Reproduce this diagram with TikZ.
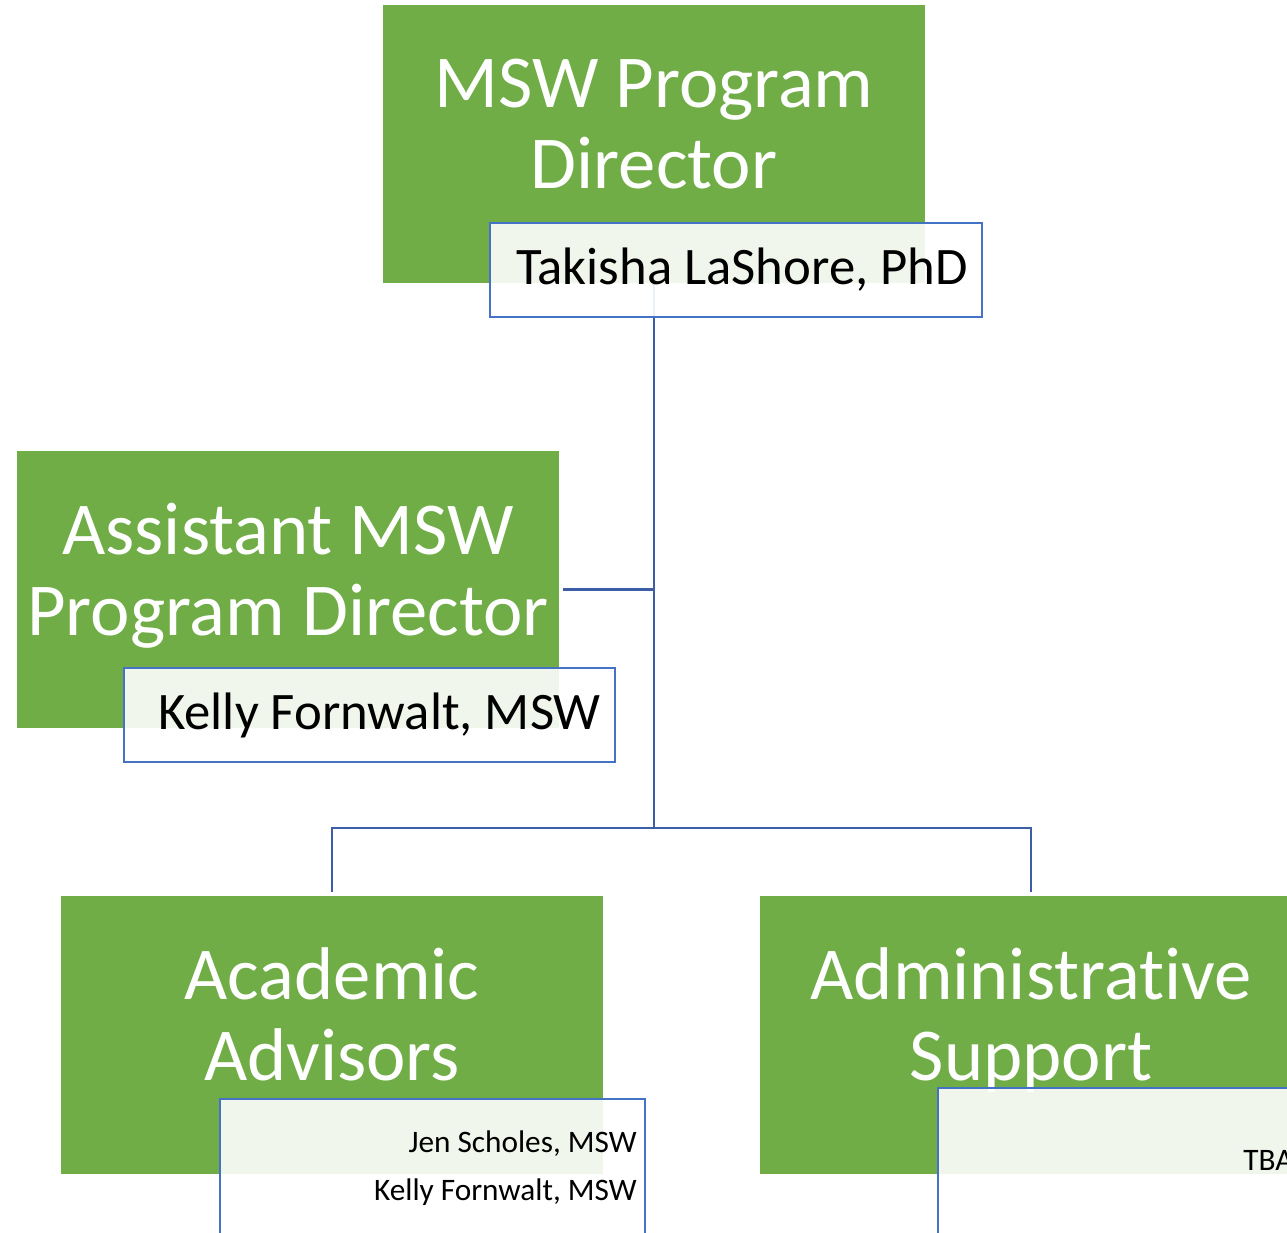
\documentclass[tikz,border=0pt]{standalone}
\usepackage{fontspec}
\setmainfont{Carlito}[Ligatures=NoCommon]
\usetikzlibrary{positioning,calc}

\definecolor{boxgreen}{HTML}{70AD47}
\definecolor{nameblue}{HTML}{4472C4}
\definecolor{linkblue}{HTML}{3B5EA6}

\begin{document}
\begin{tikzpicture}[x=0.02cm, y=-0.02cm,
    role/.style={fill=boxgreen, minimum width=10.84cm, minimum height=5.56cm,
                 inner sep=0pt},
    title/.style={text=white, font=\fontsize{42.5}{46}\selectfont,
                  align=center, inner sep=0pt},
    namebox/.style={draw=nameblue, line width=1.1pt, fill=white,
                    fill opacity=0.9, text opacity=1, inner sep=0pt,
                    font=\fontsize{30}{36}\selectfont},
    small/.style={font=\fontsize{17.8}{27}\selectfont, inner sep=0pt},
    link/.style={draw=linkblue, line width=1.5pt},
]

\useasboundingbox (0,0) rectangle (1287,1232);
\clip (0,0) rectangle (1287,1232);

% Green role boxes
\node[role] (dir)   at (654,144)   {};
\node[role] (asst)  at (288,589.5) {};
\node[role] (acad)  at (332,1035)  {};
\node[role] (admin) at (1031,1035) {};

% base = baseline of the last line
\node[title, anchor=base] (dirT)   at (654,188)  {MSW Program\\Director};
\node[title, anchor=base] (asstT)  at (288,635)  {Assistant MSW\\Program Director};
\node[title, anchor=base] (acadT)  at (332,1080) {Academic\\Advisors};
\node[title, anchor=base] (adminT) at (1031,1080) {Administrative\\Support};

% Connectors
\coordinate (hub) at (dir.south |- 0,828);
\draw[link] (dir.south) -- (hub);
\draw[link] ([xshift=0.08cm]asst.east) -- (asst.east -| dir.south);
\draw[link] ([yshift=0.08cm]acad.north) |- (hub) -| ([yshift=0.08cm]admin.north);

% Name boxes
\node[namebox, minimum width=9.84cm, minimum height=1.88cm] (dirN)
  at (736,270) {\hspace{0.24cm}Takisha LaShore, PhD};
\node[namebox, minimum width=9.82cm, minimum height=1.88cm] (asstN)
  at (369.5,715) {\hspace{0.4cm}Kelly Fornwalt, MSW};
\node[namebox, minimum width=8.5cm, minimum height=3.2cm] (acadN)
  at (432.5,1179) {};
\node[namebox, minimum width=8.5cm, minimum height=3.2cm] (adminN)
  at (1150.5,1168) {};

\node[small, anchor=base east] (acadA)  at (637,1152) {Jen Scholes, MSW};
\node[small, anchor=base east] (acadB)  at (637,1200) {Kelly Fornwalt, MSW};
\node[small, anchor=base west] (adminA) at (1243,1170) {TBA};
\end{tikzpicture}
\end{document}
